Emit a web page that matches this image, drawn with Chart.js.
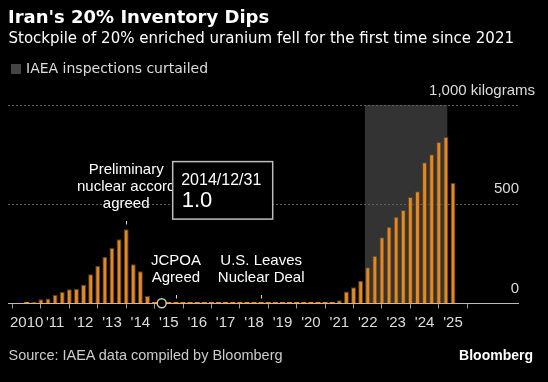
<!DOCTYPE html>
<html>
<head>
<meta charset="utf-8">
<script src="https://cdn.jsdelivr.net/npm/chart.js@4.4.1/dist/chart.umd.min.js"></script>
<style>
html,body{margin:0;padding:0;background:#000;}
#wrap{position:relative;width:548px;height:382px;overflow:hidden;background:#000;font-family:"Liberation Sans",Arial,sans-serif;}
#wrap canvas{position:absolute;left:0;top:0;}
.t{position:absolute;white-space:nowrap;}
#title{left:8px;top:7.8px;font:bold 18px "DejaVu Sans",sans-serif;line-height:18px;color:#fff;}
#sub{left:8.5px;top:31px;font:15px "DejaVu Sans",sans-serif;line-height:15px;color:#fff;}
#legsq{position:absolute;left:10.5px;top:63.5px;width:10px;height:10px;background:#444;}
#leg{left:26px;top:61px;font:14px "DejaVu Sans",sans-serif;line-height:14px;color:#ddd;}
#src{left:8.5px;top:347.8px;font-size:14.5px;line-height:15px;color:#ccc;}
#bbg{right:15px;top:348.3px;font:bold 14px "Liberation Sans",sans-serif;line-height:14px;color:#fff;}
</style>
</head>
<body>
<div id="wrap">
<canvas id="c" width="548" height="382"></canvas>
<div class="t" id="title">Iran's 20% Inventory Dips</div>
<div class="t" id="sub">Stockpile of 20% enriched uranium fell for the first time since 2021</div>
<div id="legsq"></div>
<div class="t" id="leg">IAEA inspections curtailed</div>
<div class="t" id="src">Source: IAEA data compiled by Bloomberg</div>
<div class="t" id="bbg">Bloomberg</div>
</div>
<script>
// ---- data ----
const quarterDates = [
 '2010-03-31','2010-06-30','2010-09-30','2010-12-31',
 '2011-03-31','2011-06-30','2011-09-30','2011-12-31',
 '2012-03-31','2012-06-30','2012-09-30','2012-12-31',
 '2013-03-31','2013-06-30','2013-09-30','2013-12-31',
 '2014-03-31','2014-06-30','2014-09-30','2014-12-31',
 '2015-03-31','2015-06-30','2015-09-30','2015-12-31',
 '2016-03-31','2016-06-30','2016-09-30','2016-12-31',
 '2017-03-31','2017-06-30','2017-09-30','2017-12-31',
 '2018-03-31','2018-06-30','2018-09-30','2018-12-31',
 '2019-03-31','2019-06-30','2019-09-30','2019-12-31',
 '2020-03-31','2020-06-30','2020-09-30','2020-12-31',
 '2021-03-31','2021-06-30','2021-09-30','2021-12-31',
 '2022-03-31','2022-06-30','2022-09-30','2022-12-31',
 '2023-03-31','2023-06-30','2023-09-30','2023-12-31',
 '2024-03-31','2024-06-30','2024-09-30','2024-12-31',
 '2025-03-31'
];
const stockpileKg = [
 1, 8, 22, 25,
 43, 58, 72, 73,
 95, 147, 189, 234,
 280, 324, 374, 198,
 162, 38, 1, 1,
 1, 1, 1, 1,
 1, 1, 1, 1,
 1, 1, 1, 1,
 1, 1, 1, 1,
 1, 1, 1, 1,
 1, 1, 1, 1,
 17, 60, 82, 114,
 183, 240, 334, 387,
 437, 471, 536, 566,
 712, 752, 814, 839,
 607
];
const tickYears = [2010,2011,2012,2013,2014,2015,2016,2017,2018,2019,2020,2021,2022,2023,2024,2025];
const tickLabels = ['2010',"'11","'12","'13","'14","'15","'16","'17","'18","'19","'20","'21","'22","'23","'24","'25"];
const yTickValues = [0, 500, 1000];
const yTopLabel = '1,000 kilograms';
const curtailedSpan = [2021.9, 2024.8];
const eventDates = ['2013-09-30', '2015-06-30', '2018-06-30'];
const eventLabels = [['Preliminary','nuclear accord','agreed'], ['JCPOA','Agreed'], ['U.S. Leaves','Nuclear Deal']];
const highlightDate = '2014-12-31';
const highlightValue = 1.0;

// ---- helpers ----
function qPos(d){ const p = d.split('-').map(Number); return p[0] + (Math.ceil(p[1]/3) - 1) / 4; }
function valueAt(d){ return stockpileKg[quarterDates.indexOf(d)]; }

const bars = quarterDates.map((d, i) => ({x: qPos(d), y: stockpileKg[i]}));

Chart.defaults.font.family = '"Liberation Sans", Arial, sans-serif';

const shadePlugin = {
  id: 'shade',
  beforeDraw(chart){
    const {ctx, chartArea, scales:{x}} = chart;
    const x0 = x.getPixelForValue(curtailedSpan[0]);
    const x1 = x.getPixelForValue(curtailedSpan[1]);
    ctx.save();
    ctx.fillStyle = '#333333';
    ctx.fillRect(x0, chartArea.top, x1 - x0, chartArea.bottom - chartArea.top);
    ctx.restore();
  }
};

const notePlugin = {
  id: 'notes',
  afterDraw(chart){
    const {ctx, scales:{x, y}} = chart;
    ctx.save();
    ctx.font = '15px "Liberation Sans", Arial, sans-serif';
    ctx.fillStyle = '#dddddd';
    ctx.textAlign = 'right';
    ctx.textBaseline = 'middle';
    ctx.fillText(yTopLabel, 535, y.getPixelForValue(1000) - 14);
    ctx.textAlign = 'center';
    eventDates.forEach((d, i) => {
      const px = x.getPixelForValue(qPos(d));
      const top = y.getPixelForValue(valueAt(d));
      ctx.strokeStyle = '#dddddd';
      ctx.lineWidth = 1;
      ctx.beginPath();
      ctx.moveTo(Math.round(px) + 0.5, top - 8.3);
      ctx.lineTo(Math.round(px) + 0.5, top - 4.8);
      ctx.stroke();
      const lines = eventLabels[i];
      ctx.fillStyle = '#ffffff';
      lines.forEach((ln, j) => {
        const cy = top - 25.8 - (lines.length - 1 - j) * 16.6;
        ctx.fillText(ln, px, cy);
      });
    });
    const hx = x.getPixelForValue(qPos(highlightDate));
    const hy = y.getPixelForValue(highlightValue);
    const bx = hx + 11, by = hy - 141.7, bw = 100, bh = 57.5;
    ctx.fillStyle = '#000';
    ctx.fillRect(bx, by, bw, bh);
    ctx.strokeStyle = '#bdbdbd';
    ctx.lineWidth = 1.5;
    ctx.strokeRect(bx, by, bw, bh);
    ctx.fillStyle = '#ffffff';
    ctx.textAlign = 'left';
    ctx.font = '16px "Liberation Sans", Arial, sans-serif';
    ctx.fillText(highlightDate.replace(/-/g, '/'), bx + 8.5, by + 18.5);
    ctx.font = '22px "Liberation Sans", Arial, sans-serif';
    ctx.fillText(highlightValue.toFixed(1), bx + 9, by + 39.5);
    ctx.restore();
  }
};

new Chart(document.getElementById('c'), {
  type: 'bar',
  data: {
    datasets: [
      {
        type: 'line',
        data: [{x: qPos(highlightDate), y: highlightValue}],
        showLine: false,
        pointRadius: 4.5,
        pointBackgroundColor: '#000',
        pointBorderColor: '#c8c8c8',
        pointBorderWidth: 1.5,
        clip: false,
        order: 0
      },
      {
        type: 'bar',
        data: bars,
        backgroundColor: '#df8a26',
        borderColor: 'rgba(110,65,15,0.9)',
        borderWidth: c => (c.raw && c.raw.y >= 5) ? 1 : 0,
        minBarLength: 1.5,
        barPercentage: 0.7,
        categoryPercentage: 1,
        order: 1
      }
    ]
  },
  options: {
    responsive: false,
    animation: false,
    devicePixelRatio: 1,
    layout: {padding: {left: 8, right: 30, top: 105, bottom: 48.5}},
    plugins: {legend: {display: false}, tooltip: {enabled: false}, title: {display: false}},
    scales: {
      x: {
        type: 'linear',
        min: 2009.342,
        max: 2027.287,
        offset: false,
        afterBuildTicks: s => { s.ticks = tickYears.map(v => ({value: v})); },
        afterFit: s => { s.height = 30; },
        ticks: {
          autoSkip: false, maxRotation: 0, minRotation: 0,
          color: '#dddddd', font: {size: 15}, padding: 5,
          callback: (v, i) => tickLabels[i]
        },
        grid: {drawOnChartArea: false, drawTicks: true, tickLength: 5, color: '#999999'},
        border: {display: true, color: '#bbbbbb', width: 1}
      },
      y: {
        position: 'right',
        min: 0,
        max: 1000,
        afterBuildTicks: s => { s.ticks = yTickValues.map(v => ({value: v})); },
        afterFit: s => { s.width = 0; },
        ticks: {
          mirror: true, padding: 1, labelOffset: -15,
          color: '#dddddd', font: {size: 15},
          callback: v => v === 1000 ? '' : String(v)
        },
        grid: {
          drawTicks: false,
          color: c => (c.tick && c.tick.value === 0) ? 'rgba(0,0,0,0)' : '#5e5e5e',
          lineWidth: 1
        },
        border: {display: false, dash: [2, 2]}
      }
    }
  },
  plugins: [shadePlugin, notePlugin]
});
</script>
</body>
</html>
